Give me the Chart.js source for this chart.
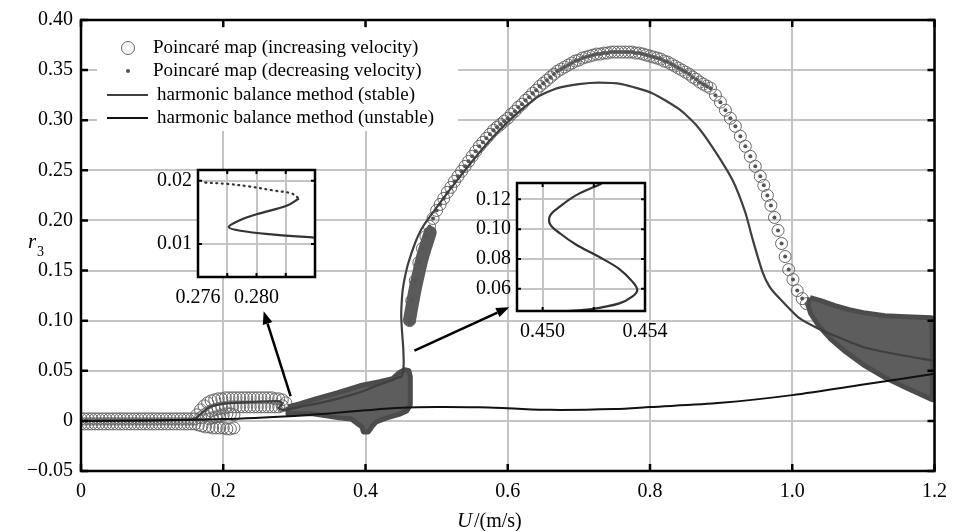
<!DOCTYPE html>
<html>
<head>
<meta charset="utf-8">
<script src="https://cdn.jsdelivr.net/npm/chart.js@4.4.0/dist/chart.umd.min.js"></script>
<style>
  body { margin: 0; background: #fff; }
  #wrap { position: relative; width: 956px; height: 531px; }
  canvas { position: absolute; }
</style>
</head>
<body>
<div id="wrap">
  <canvas id="mainChart" width="956" height="531" style="left:0;top:0"></canvas>
  <canvas id="insetLeft" width="200" height="160" style="left:140px;top:152px"></canvas>
  <canvas id="insetRight" width="230" height="185" style="left:455px;top:165px"></canvas>
</div>
<script>
// axis ticks
var xTicks = [0, 0.2, 0.4, 0.6, 0.8, 1.0, 1.2];
var yTicks = [-0.05, 0, 0.05, 0.10, 0.15, 0.20, 0.25, 0.30, 0.35, 0.40];
var legendLabels = [
  'Poincaré map (increasing velocity)',
  'Poincaré map (decreasing velocity)',
  'harmonic balance method (stable)',
  'harmonic balance method (unstable)'
];

// Poincare map, increasing velocity, low branch (U < 0.3)
var incLowX = [
  // row near zero (upper)
  0,0.005,0.01,0.015,0.02,0.025,0.03,0.035,0.04,0.045,0.05,0.055,0.06,0.065,0.07,0.075,0.08,
  0.085,0.09,0.095,0.1,0.105,0.11,0.115,0.12,0.125,0.13,0.135,0.14,0.145,0.15,0.155,0.16,
  // row near zero (lower)
  0,0.005,0.01,0.015,0.02,0.025,0.03,0.035,0.04,0.045,0.05,0.055,0.06,0.065,0.07,0.075,0.08,
  0.085,0.09,0.095,0.1,0.105,0.11,0.115,0.12,0.125,0.13,0.135,0.14,0.145,0.15,0.155,0.16,
  // upper fork, top row
  0.163,0.168,0.173,0.178,0.183,0.188,0.193,0.198,0.203,0.208,0.213,0.218,0.223,0.228,0.233,
  0.238,0.243,0.248,0.253,0.258,0.263,0.268,0.273,0.278,0.283,0.288,
  // upper fork, second row
  0.168,0.173,0.178,0.183,0.188,0.193,0.198,0.203,0.208,0.213,0.218,0.223,0.228,0.233,0.238,
  0.243,0.248,0.253,0.258,0.263,0.268,0.273,0.278,0.283,
  // lower fork
  0.165,0.17,0.175,0.18,0.185,0.19,0.195,0.2,0.205,0.21,0.215,
  0.18,0.185,0.19,0.195,0.2,0.205,0.21,0.215
];
var incLowY = [
  0.002,0.002,0.002,0.002,0.002,0.002,0.002,0.002,0.002,0.002,0.002,0.002,0.002,0.002,0.002,0.002,0.002,
  0.002,0.002,0.002,0.002,0.002,0.002,0.002,0.002,0.002,0.002,0.002,0.002,0.002,0.002,0.002,0.002,
  -0.003,-0.003,-0.003,-0.003,-0.003,-0.003,-0.003,-0.003,-0.003,-0.003,-0.003,-0.003,-0.003,-0.003,-0.003,-0.003,-0.003,
  -0.003,-0.003,-0.003,-0.003,-0.003,-0.003,-0.003,-0.003,-0.003,-0.003,-0.003,-0.003,-0.003,-0.003,-0.003,-0.003,
  0.006,0.011,0.015,0.018,0.020,0.021,0.022,0.022,0.023,0.023,0.023,0.023,0.023,0.023,0.023,
  0.023,0.023,0.023,0.023,0.023,0.023,0.023,0.022,0.022,0.021,0.018,
  0.003,0.006,0.008,0.010,0.011,0.012,0.013,0.013,0.014,0.014,0.014,0.014,0.014,0.014,0.014,
  0.014,0.014,0.014,0.014,0.014,0.014,0.014,0.014,0.015,
  -0.004,-0.005,-0.006,-0.006,-0.007,-0.007,-0.007,-0.007,-0.008,-0.008,-0.007,
  0.002,0.003,0.004,0.005,0.006,0.007,0.007,0.006
];

// the big arch (circles of increasing velocity, dots of decreasing velocity)
var archX = [
  0.462,0.465,0.470,0.475,0.480,0.485,0.490,0.495,
  0.500,0.505,0.510,0.515,0.520,0.525,0.530,0.535,0.540,0.545,0.550,0.555,0.560,0.565,0.570,0.575,
  0.580,0.585,0.590,0.595,0.600,0.605,0.610,0.615,0.620,0.625,0.630,0.635,0.640,0.645,0.650,0.655,
  0.660,0.665,0.670,0.675,0.680,0.685,0.690,0.695,0.700,0.705,0.710,0.715,0.720,0.725,0.730,0.735,
  0.740,0.745,0.750,0.755,0.760,0.765,0.770,0.775,0.780,0.785,0.790,0.795,0.800,0.805,0.810,0.815,
  0.820,0.825,0.830,0.835,0.840,0.845,0.850,0.855,0.860,0.865,0.870,0.875,0.880,
  0.885,0.892,0.899,0.906,0.913,0.920,0.927,0.934,0.941,0.948,0.955,0.960,0.965,0.970,0.975,
  0.980,0.985,0.990,0.995,1.001,1.007,1.014,1.020
];
var archY = [
  0.100,0.120,0.140,0.158,0.172,0.184,0.194,0.202,
  0.210,0.216,0.222,0.228,0.233,0.239,0.244,0.249,0.254,0.259,0.264,0.269,0.274,0.278,0.282,0.286,
  0.290,0.293,0.296,0.299,0.302,0.306,0.309,0.313,0.316,0.320,0.323,0.327,0.330,0.334,0.337,0.340,
  0.343,0.346,0.349,0.351,0.353,0.355,0.357,0.359,0.360,0.362,0.363,0.364,0.365,0.366,0.366,0.367,
  0.367,0.368,0.368,0.368,0.368,0.368,0.368,0.368,0.367,0.367,0.366,0.365,0.364,0.363,0.362,0.361,
  0.359,0.358,0.356,0.354,0.352,0.350,0.348,0.346,0.343,0.341,0.338,0.336,0.334,
  0.332,0.325,0.318,0.310,0.302,0.294,0.284,0.274,0.264,0.254,0.244,0.235,0.225,0.215,0.203,
  0.190,0.177,0.164,0.151,0.141,0.130,0.122,0.117
];

// dense regions of the decreasing-velocity map (outlines)
var blobRightX = [1.025,1.04,1.06,1.08,1.10,1.13,1.16,1.196,1.197,1.197,1.16,1.131,1.10,1.075,1.055,1.037,1.026,1.022,1.025];
var blobRightY = [0.123,0.120,0.115,0.111,0.108,0.105,0.104,0.103,0.060,0.021,0.033,0.043,0.056,0.069,0.081,0.095,0.107,0.116,0.123];
var blobMidX = [0.291,0.307,0.33,0.36,0.392,0.42,0.438,0.447,0.455,0.461,0.463,0.463,0.458,0.447,0.43,0.415,0.410,0.404,0.397,0.395,0.38,0.363,0.345,0.326,0.307,0.291,0.291];
var blobMidY = [0.014,0.017,0.022,0.028,0.035,0.039,0.042,0.048,0.051,0.050,0.044,0.016,0.010,0.0065,0.003,-0.001,-0.005,-0.011,-0.011,-0.006,0.002,0.003,0.005,0.007,0.007,0.007,0.014];
var stripX = [0.462,0.466,0.470,0.475,0.480,0.486,0.491];
var stripY = [0.101,0.117,0.132,0.148,0.163,0.177,0.188];

// harmonic balance method
var stableX = [0,0.08,0.15,0.16,0.17,0.181,0.193,0.205,0.23,0.255,0.2765,0.2789,0.2812,0.2824,0.2829,0.2821,0.2800,0.2789,
  0.2781,0.2789,0.2812,0.284,0.29,0.307,0.33,0.36,0.39,0.415,0.435,0.4452,0.4505,0.4519,0.4530,0.4535,0.4537,0.4535,
  0.4530,0.4522,0.4513,0.4507,0.4503,0.4503,0.4507,0.4513,0.4523,0.455,0.46,0.47,0.48,0.50,0.52,0.55,0.575,0.598,
  0.62,0.644,0.67,0.70,0.728,0.76,0.803,0.841,0.864,0.887,0.9155,0.934,0.944,0.958,0.968,0.981,1.009,1.037,1.07,
  1.103,1.15,1.2];
var stableY = [0,0.0003,0.001,0.002,0.008,0.014,0.0163,0.0175,0.0185,0.0192,0.0197,0.0193,0.0185,0.0180,0.0172,0.0161,0.0147,0.0138,
  0.0127,0.0121,0.0115,0.0110,0.0112,0.014,0.017,0.022,0.028,0.035,0.040,0.043,0.0443,0.0463,0.0501,0.0546,0.0591,0.0649,
  0.0732,0.0814,0.0897,0.0969,0.1031,0.1093,0.1155,0.1227,0.1305,0.142,0.157,0.178,0.193,0.213,0.232,0.259,0.280,0.297,
  0.311,0.324,0.332,0.336,0.3375,0.336,0.327,0.311,0.296,0.274,0.241,0.208,0.182,0.149,0.134,0.123,0.103,0.092,0.082,
  0.073,0.066,0.060];
var unstableX = [0,0.1,0.2,0.3,0.35,0.4,0.45,0.5,0.56,0.6,0.66,0.75,0.8,0.9,1.0,1.1,1.2];
var unstableY = [0,0.0005,0.0018,0.005,0.0075,0.0105,0.013,0.0138,0.0135,0.0126,0.011,0.0118,0.0138,0.018,0.0257,0.0362,0.047];

// zoomed views
var leftDotX = [0.2765,0.2780,0.2795,0.2812,0.2824,0.2829];
var leftDotY = [0.0197,0.0195,0.0191,0.01845,0.0180,0.0172];
var leftSolidX = [0.2829,0.2821,0.2800,0.2789,0.2781,0.2789,0.2812,0.2840];
var leftSolidY = [0.0172,0.0161,0.0147,0.0138,0.0127,0.0121,0.0115,0.0110];
var rightX = [0.4505,0.4519,0.4530,0.4535,0.4537,0.4535,0.4530,0.4522,0.4513,0.4507,0.4503,0.4503,0.4507,0.4513,0.4523];
var rightY = [0.0443,0.0463,0.0501,0.0546,0.0591,0.0649,0.0732,0.0814,0.0897,0.0969,0.1031,0.1093,0.1155,0.1227,0.1305];

// arrows pointing at the zoomed views, in data units: [fromX, fromY, toX, toY]
var arrows = [[0.2947, 0.0247, 0.2568, 0.1095], [0.4688, 0.0701, 0.6021, 0.1135]];

Chart.defaults.font.family = '"Liberation Serif", "Times New Roman", serif';
Chart.defaults.color = '#000';

function pts(xs, ys) {
  return xs.map(function (x, i) { return {x: x, y: ys[i]}; });
}

var frame = {
  id: 'frame',
  beforeDraw: function (chart, args, opts) {
    if (!opts.white) return;
    var a = chart.chartArea, ctx = chart.ctx;
    ctx.save();
    ctx.fillStyle = '#fff';
    ctx.fillRect(a.left, a.top, a.right - a.left, a.bottom - a.top);
    ctx.restore();
  },
  afterDraw: function (chart, args, opts) {
    var ctx = chart.ctx, a = chart.chartArea, sx = chart.scales.x, sy = chart.scales.y;
    var L = opts.tickLen;
    ctx.save();
    ctx.strokeStyle = '#000';
    ctx.lineWidth = opts.tickWidth;
    ctx.beginPath();
    sx.ticks.forEach(function (t) {
      var p = sx.getPixelForValue(t.value);
      ctx.moveTo(p, a.top); ctx.lineTo(p, a.top + L);
      ctx.moveTo(p, a.bottom); ctx.lineTo(p, a.bottom - L);
    });
    sy.ticks.forEach(function (t) {
      var p = sy.getPixelForValue(t.value);
      ctx.moveTo(a.left, p); ctx.lineTo(a.left + L, p);
      ctx.moveTo(a.right, p); ctx.lineTo(a.right - L, p);
    });
    ctx.stroke();
    ctx.lineWidth = opts.border;
    ctx.strokeRect(a.left, a.top, a.right - a.left, a.bottom - a.top);
    ctx.restore();
  }
};

function drawArrow(ctx, x1, y1, x2, y2) {
  var ang = Math.atan2(y2 - y1, x2 - x1), hl = 13, hw = 5;
  var bx = x2 - hl * Math.cos(ang), by = y2 - hl * Math.sin(ang);
  ctx.beginPath();
  ctx.moveTo(x1, y1);
  ctx.lineTo(bx, by);
  ctx.stroke();
  ctx.beginPath();
  ctx.moveTo(x2, y2);
  ctx.lineTo(bx + hw * Math.sin(ang), by - hw * Math.cos(ang));
  ctx.lineTo(bx - hw * Math.sin(ang), by + hw * Math.cos(ang));
  ctx.closePath();
  ctx.fill();
}

var decor = {
  id: 'decor',
  afterDraw: function (chart) {
    var ctx = chart.ctx, sx = chart.scales.x, sy = chart.scales.y;
    ctx.save();
    // arrows
    ctx.strokeStyle = '#000';
    ctx.fillStyle = '#000';
    ctx.lineWidth = 2.5;
    arrows.forEach(function (a) {
      drawArrow(ctx, sx.getPixelForValue(a[0]), sy.getPixelForValue(a[1]),
        sx.getPixelForValue(a[2]), sy.getPixelForValue(a[3]));
    });
    // legend
    ctx.fillStyle = '#fff';
    ctx.fillRect(97, 28, 361, 103);
    var rows = [48, 71, 95, 118];
    ctx.strokeStyle = '#666';
    ctx.lineWidth = 1;
    ctx.beginPath(); ctx.arc(128, rows[0], 6.5, 0, Math.PI * 2); ctx.stroke();
    ctx.fillStyle = '#555';
    ctx.beginPath(); ctx.arc(128, rows[1], 2, 0, Math.PI * 2); ctx.fill();
    ctx.lineWidth = 2.2;
    ctx.strokeStyle = '#404040';
    ctx.beginPath(); ctx.moveTo(107, rows[2]); ctx.lineTo(148, rows[2]); ctx.stroke();
    ctx.strokeStyle = '#111';
    ctx.beginPath(); ctx.moveTo(107, rows[3]); ctx.lineTo(148, rows[3]); ctx.stroke();
    ctx.fillStyle = '#000';
    ctx.font = '19px "Liberation Serif"';
    ctx.textBaseline = 'middle';
    ctx.fillText(legendLabels[0], 153, rows[0]);
    ctx.fillText(legendLabels[1], 153, rows[1]);
    ctx.fillText(legendLabels[2], 157, rows[2]);
    ctx.fillText(legendLabels[3], 157, rows[3]);
    // axis titles
    ctx.textBaseline = 'alphabetic';
    ctx.font = 'italic 21px "Liberation Serif"';
    ctx.fillText('r', 28, 248);
    ctx.font = '14px "Liberation Serif"';
    ctx.fillText('3', 37, 256);
    ctx.font = 'italic 21px "Liberation Serif"';
    ctx.fillText('U', 457, 527);
    ctx.font = '20px "Liberation Serif"';
    ctx.fillText('/(m/s)', 474, 527);
    ctx.restore();
  }
};

function fmtMainY(v) {
  if (Math.abs(v) < 1e-9) return '0';
  return (v < 0 ? '\u2212' : '') + Math.abs(v).toFixed(2);
}
function fmtMainX(v) {
  if (Math.abs(v) < 1e-9) return '0';
  return v.toFixed(1);
}

var blobStyle = {
  showLine: true, fill: 'shape', tension: 0, pointRadius: 0,
  backgroundColor: '#5d5d5d', borderColor: '#4c4c4c', borderWidth: 5,
  borderJoinStyle: 'round', order: 3
};

new Chart(document.getElementById('mainChart'), {
  type: 'scatter',
  data: {
    datasets: [
      { label: legendLabels[3], data: pts(unstableX, unstableY), showLine: true, tension: 0.3,
        borderColor: '#111', borderWidth: 2, pointRadius: 0, order: 0 },
      { label: legendLabels[2], data: pts(stableX, stableY), showLine: true, tension: 0.2,
        borderColor: '#3f3f3f', borderWidth: 2.2, pointRadius: 0, order: 1 },
      { label: legendLabels[1], data: pts(archX, archY), pointRadius: 2,
        backgroundColor: '#555', borderWidth: 0, order: 2 },
      Object.assign({ label: 'blobRight', data: pts(blobRightX, blobRightY) }, blobStyle),
      Object.assign({ label: 'blobMid', data: pts(blobMidX, blobMidY) }, blobStyle),
      { label: 'strip', data: pts(stripX, stripY), showLine: true, tension: 0.3, pointRadius: 0,
        borderColor: '#5a5a5a', borderWidth: 13, borderCapStyle: 'round', order: 3 },
      { label: legendLabels[0], data: pts(incLowX.concat(archX), incLowY.concat(archY)),
        pointRadius: 6, backgroundColor: 'rgba(0,0,0,0)', borderColor: '#666', borderWidth: 1, order: 4 }
    ]
  },
  options: {
    responsive: false,
    animation: false,
    devicePixelRatio: 1,
    events: [],
    layout: { padding: { top: 15, right: 20, left: 0, bottom: 0 } },
    plugins: {
      legend: { display: false },
      tooltip: { enabled: false },
      frame: { tickLen: 7, tickWidth: 2.5, border: 2.5 }
    },
    scales: {
      x: {
        min: 0, max: 1.2,
        afterBuildTicks: function (s) { s.ticks = xTicks.map(function (v) { return {value: v}; }); },
        afterFit: function (s) { s.height = 60; },
        ticks: { callback: fmtMainX, font: { size: 20 }, padding: 9, maxRotation: 0 },
        grid: { color: '#c4c4c4', lineWidth: 2, drawTicks: false },
        border: { display: false }
      },
      y: {
        min: -0.05, max: 0.40,
        afterBuildTicks: function (s) { s.ticks = yTicks.map(function (v) { return {value: v}; }); },
        afterFit: function (s) { s.width = 81; },
        ticks: { callback: fmtMainY, font: { size: 20 }, padding: 8 },
        grid: { color: '#c4c4c4', lineWidth: 2, drawTicks: false },
        border: { display: false }
      }
    }
  },
  plugins: [frame, decor]
});

function makeInset(id, datasets, xr, yr, xt, yt, xShown, fmt, pad, yw, xh) {
  return new Chart(document.getElementById(id), {
    type: 'scatter',
    data: { datasets: datasets },
    options: {
      responsive: false,
      animation: false,
      devicePixelRatio: 1,
      events: [],
      layout: { padding: pad },
      plugins: {
        legend: { display: false },
        tooltip: { enabled: false },
        frame: { white: true, tickLen: 4, tickWidth: 2, border: 2.5 }
      },
      scales: {
        x: {
          min: xr[0], max: xr[1],
          afterBuildTicks: function (s) { s.ticks = xt.map(function (v) { return {value: v}; }); },
          afterFit: function (s) { s.height = xh; },
          ticks: {
            font: { size: 20 }, padding: 9, maxRotation: 0, autoSkip: false,
            callback: function (v) {
              return xShown.some(function (w) { return Math.abs(w - v) < 1e-7; }) ? v.toFixed(3) : '';
            }
          },
          grid: { color: '#c4c4c4', lineWidth: 2, drawTicks: false },
          border: { display: false }
        },
        y: {
          min: yr[0], max: yr[1],
          afterBuildTicks: function (s) { s.ticks = yt.map(function (v) { return {value: v}; }); },
          afterFit: function (s) { s.width = yw; },
          ticks: { font: { size: 20 }, padding: 6, autoSkip: false, callback: function (v) { return v.toFixed(fmt); } },
          grid: { color: '#c4c4c4', lineWidth: 2, drawTicks: false },
          border: { display: false }
        }
      }
    },
    plugins: [frame]
  });
}

makeInset('insetLeft', [
  { data: pts(leftSolidX, leftSolidY), showLine: true, tension: 0.35, pointRadius: 0,
    borderColor: '#333', borderWidth: 2.2 },
  { data: pts(leftDotX, leftDotY), showLine: true, tension: 0.35, pointRadius: 0,
    borderColor: '#333', borderWidth: 2.2, borderDash: [1, 4.5], borderCapStyle: 'round' }
], [0.276, 0.284], [0.0048, 0.0217], [0.276, 0.278, 0.280, 0.282, 0.284], [0.01, 0.02],
  [0.276, 0.280], 2, { top: 5, right: 25, left: 0, bottom: 0 }, 58, 35);

makeInset('insetRight', [
  { data: pts(rightX, rightY), showLine: true, tension: 0.35, pointRadius: 0,
    borderColor: '#333', borderWidth: 2.2 }
], [0.449, 0.454], [0.045, 0.131], [0.450, 0.452, 0.454], [0.06, 0.08, 0.10, 0.12],
  [0.450, 0.454], 2, { top: 6, right: 40, left: 0, bottom: 0 }, 62, 39);
</script>
</body>
</html>
